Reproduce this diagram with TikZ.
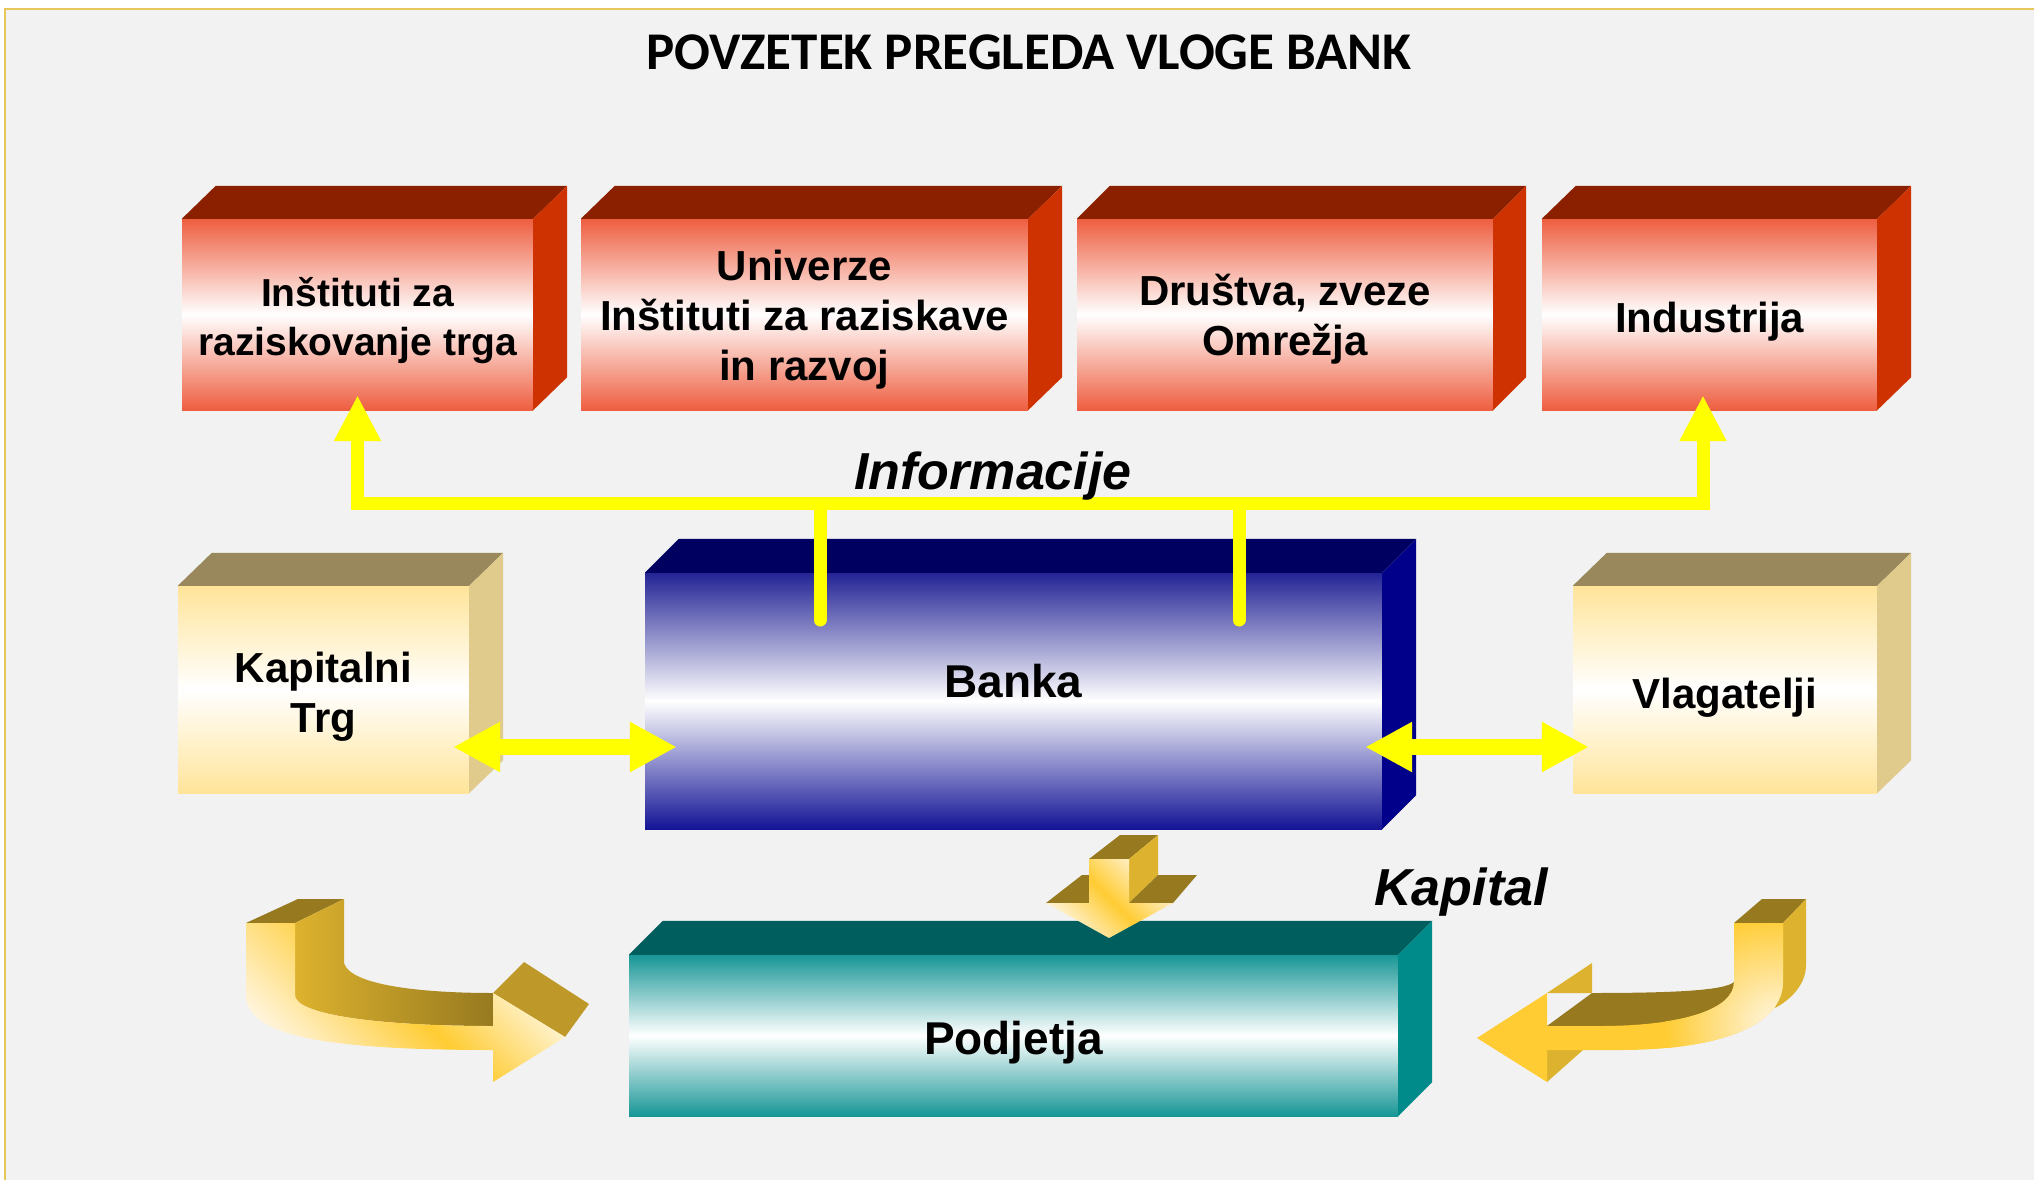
\documentclass[tikz,border=0pt]{standalone}
\usepackage{fontspec}
\setmainfont{Liberation Sans}
\newfontfamily\ttlfont{Carlito}
\usetikzlibrary{arrows.meta,calc}

\definecolor{panel}{RGB}{242,242,242}
\definecolor{frameY}{RGB}{230,200,90}
\definecolor{redTop}{RGB}{139,32,0}
\definecolor{redSide}{RGB}{206,50,0}
\definecolor{redFace}{RGB}{238,94,64}
\definecolor{capTop}{RGB}{152,136,92}
\definecolor{capSide}{RGB}{224,202,140}
\definecolor{capFace}{RGB}{255,228,153}
\definecolor{bluTop}{RGB}{0,0,96}
\definecolor{bluSide}{RGB}{0,0,139}
\definecolor{bluFaceT}{RGB}{36,36,150}
\definecolor{bluFaceB}{RGB}{20,20,150}
\definecolor{tealTop}{RGB}{0,94,94}
\definecolor{tealSide}{RGB}{0,139,139}
\definecolor{tealFace}{RGB}{24,150,150}
\definecolor{infoY}{RGB}{255,255,0}
\definecolor{goldDark}{RGB}{151,122,32}
\definecolor{goldSide}{RGB}{221,178,46}
\definecolor{goldHead}{RGB}{190,152,40}
\definecolor{goldMid}{RGB}{255,204,51}
\definecolor{goldLight}{RGB}{255,246,226}

\newcommand\bxfont{\fontsize{42}{50}\selectfont\bfseries}
\newcommand\bxfontS{\fontsize{39}{49}\selectfont\bfseries}
\newcommand\drawsides[5]{%
  \fill[#4] (#1.north west) -- ++(#2,-#3) -- ($(#1.north east)+(#2,-#3)$) -- (#1.north east) -- cycle;
  \fill[#5] (#1.north east) -- ++(#2,-#3) -- ($(#1.south east)+(#2,-#3)$) -- (#1.south east) -- cycle;}

\begin{document}
\begin{tikzpicture}[x=1pt,y=-1pt,
  face/.style={inner sep=0pt},
  lbl/.style={inner sep=0pt, align=center, text=black, font=\bxfont},
  redface/.style={face, minimum height=191pt, top color=redFace, bottom color=redFace, middle color=white},
  capface/.style={face, minimum height=207pt, top color=capFace, bottom color=capFace, middle color=white},
  bluface/.style={face, top color=bluFaceT, bottom color=bluFaceB, middle color=white},
  tealface/.style={face, top color=tealFace, bottom color=tealFace, middle color=white},
  infoline/.style={draw=infoY, line width=13pt},
  infotip/.style={{Triangle[length=46pt,width=44pt]}-{Triangle[length=46pt,width=44pt]}},
  dbl/.style={draw=infoY, line width=16pt, {Triangle[length=47pt,width=47pt]}-{Triangle[length=47pt,width=47pt]}},
  bigital/.style={font=\fontsize{52}{60}\selectfont\bfseries\itshape, inner sep=0pt, anchor=base}
]
\useasboundingbox (0,0) rectangle (2034,1180);
\fill[white] (0,0) rectangle (2034,1180);
\fill[panel] (5,9) rectangle (2034,1180);
\draw[frameY, line width=2.5pt] (5,1180) -- (5,9) -- (2034,9);

\node[font=\ttlfont\bfseries\fontsize{53}{60}\selectfont, inner sep=0pt] (title) at (1029,52) {POVZETEK PREGLEDA VLOGE BANK};

% red boxes
\node[redface, minimum width=351pt] (r1) at (357.5,314.5) {};
\drawsides{r1}{34}{33}{redTop}{redSide}
\node[lbl, font=\bxfontS] (r1t) at ($(r1.center)+(0,6)$) {Inštituti za\\raziskovanje trga};
\node[redface, minimum width=447pt] (r2) at (804.5,314.5) {};
\drawsides{r2}{34}{33}{redTop}{redSide}
\node[lbl] (r2t) at ($(r2.center)+(0,5)$) {Univerze\\Inštituti za raziskave\\in razvoj};
\node[redface, minimum width=416pt] (r3) at (1285,314.5) {};
\drawsides{r3}{33}{33}{redTop}{redSide}
\node[lbl] (r3t) at ($(r3.center)+(0,5)$) {Društva, zveze\\Omrežja};
\node[redface, minimum width=335pt] (r4) at (1709.5,314.5) {};
\drawsides{r4}{34}{33}{redTop}{redSide}
\node[lbl, text depth=0pt] (r4t) at ($(r4.center)+(0,3)$) {Industrija};

% middle row
\node[capface, minimum width=291pt] (kap) at (323.5,689.5) {};
\drawsides{kap}{34}{33}{capTop}{capSide}
\node[lbl] (kapt) at ($(kap.center)+(0,7)$) {Kapitalni\\Trg};
\node[capface, minimum width=304pt] (vlag) at (1725,689.5) {};
\drawsides{vlag}{34}{33}{capTop}{capSide}
\node[lbl, text depth=0pt] (vlagt) at ($(vlag.center)+(0,4)$) {Vlagatelji};
\node[bluface, minimum width=737pt, minimum height=256pt] (bank) at (1013.5,701) {};
\drawsides{bank}{34}{34}{bluTop}{bluSide}
\node[lbl, font=\fontsize{46}{54}\selectfont\bfseries, text depth=0pt] (bankt) at ($(bank.center)+(0,-20)$) {Banka};

% information lines
\coordinate (hl) at (0,503);
\coordinate (t1) at ($(r1.south)+(0,-15)$);
\coordinate (t4) at ($(r4.south)+(-6.5,-15)$);
\coordinate (c1) at (t1 |- hl);
\coordinate (c4) at (t4 |- hl);
\draw[infoline, infotip] (t1) -- (c1) -- (c4) -- (t4);
\coordinate (v1) at (820,508);
\coordinate (v1e) at (820,620);
\coordinate (v2) at (1239,508);
\coordinate (v2e) at (1239,620);
\draw[infoline, line cap=round] (v1) -- (v1e);
\draw[infoline, line cap=round] (v2) -- (v2e);
\node[bigital] (info) at (993,489) {Informacije};

% double arrows
\coordinate (d1) at ($(kap.east)+(-16,57.5)$);
\coordinate (d2) at ($(bank.west)+(32,46)$);
\draw[dbl] (d1) -- (d2);
\coordinate (d3) at ($(bank.east)+(-17,46)$);
\coordinate (d4) at ($(vlag.west)+(16,57.5)$);
\draw[dbl] (d3) -- (d4);

% bottom box
\node[tealface, minimum width=769pt, minimum height=161pt] (podj) at (1013.5,1035.5) {};
\drawsides{podj}{34}{34}{tealTop}{tealSide}
\node[lbl, font=\fontsize{46}{54}\selectfont\bfseries, text depth=0pt] (podjt) at ($(podj.center)+(0,2)$) {Podjetja};

\node[bigital] (kapital) at (1461,905) {Kapital};

% down arrow
\fill[goldDark] (1089,859) -- (1120,835) -- (1158,835) -- (1129,859) -- cycle;
\fill[goldSide] (1129,859) -- (1158,835) -- (1158,875) -- (1129,903) -- cycle;
\fill[goldDark] (1046,903) -- (1082,875) -- (1089,875) -- (1089,903) -- cycle;
\fill[goldDark] (1129,903) -- (1158,875) -- (1197,875) -- (1173,903) -- cycle;
\shade[left color=goldLight, right color=goldLight, middle color=goldMid, shading angle=-45]
  (1089,859) -- (1129,859) -- (1129,903) -- (1173,903) -- (1109,938) -- (1046,903) -- (1089,903) -- cycle;

% left curved arrow
\fill[goldDark] (246,923) -- (298,899) -- (344,899) -- (295,923) -- cycle;
\shade[left color=goldSide, right color=goldDark]
  (295,923) -- (344,899) -- (344,963) .. controls (350,985) and (420,993) .. (493,993)
  -- (493,1026) .. controls (380,1026) and (295,1015) .. (295,995) -- cycle;
\fill[goldHead] (493,993) -- (524,962) -- (589,1004) -- (565,1037) -- cycle;
\shade[left color=white, right color=goldLight, middle color=goldMid, shading angle=-45]
  (246,923) -- (246,995) .. controls (246,1035) and (320,1050) .. (493,1050)
  -- (493,1082) -- (565,1037) -- (493,993)
  -- (493,1026) .. controls (380,1026) and (295,1015) .. (295,995) -- (295,923) -- cycle;

% right curved arrow
\fill[goldDark] (1734,923) -- (1762,899) -- (1806,899) -- (1783,923) -- cycle;
\fill[goldSide] (1783,923) -- (1806,899) -- (1806,965) .. controls (1806,985) and (1790,1000) .. (1775,1008) -- (1783,982) -- cycle;
\fill[goldSide] (1547,993) -- (1592,963) -- (1592,993) -- cycle;
\fill[goldSide] (1547,1050) -- (1583,1050) -- (1547,1082) -- cycle;
\fill[goldDark] (1547,1026) -- (1592,993) .. controls (1680,993) and (1725,990) .. (1734,982) -- (1734,1015) -- (1600,1035) -- cycle;
\begin{scope}
  \clip (1734,923) -- (1783,923) -- (1783,982) .. controls (1783,1025) and (1720,1050) .. (1620,1050)
    -- (1547,1050) -- (1547,1082) -- (1477,1038) -- (1547,993) -- (1547,1026) -- (1600,1026)
    .. controls (1680,1026) and (1734,1010) .. (1734,982) -- cycle;
  \fill[goldMid] (1470,890) rectangle (1815,1090);
  \shade[inner color=goldLight, outer color=goldMid] (1775,1025) circle (110);
\end{scope}
\end{tikzpicture}
\end{document}
